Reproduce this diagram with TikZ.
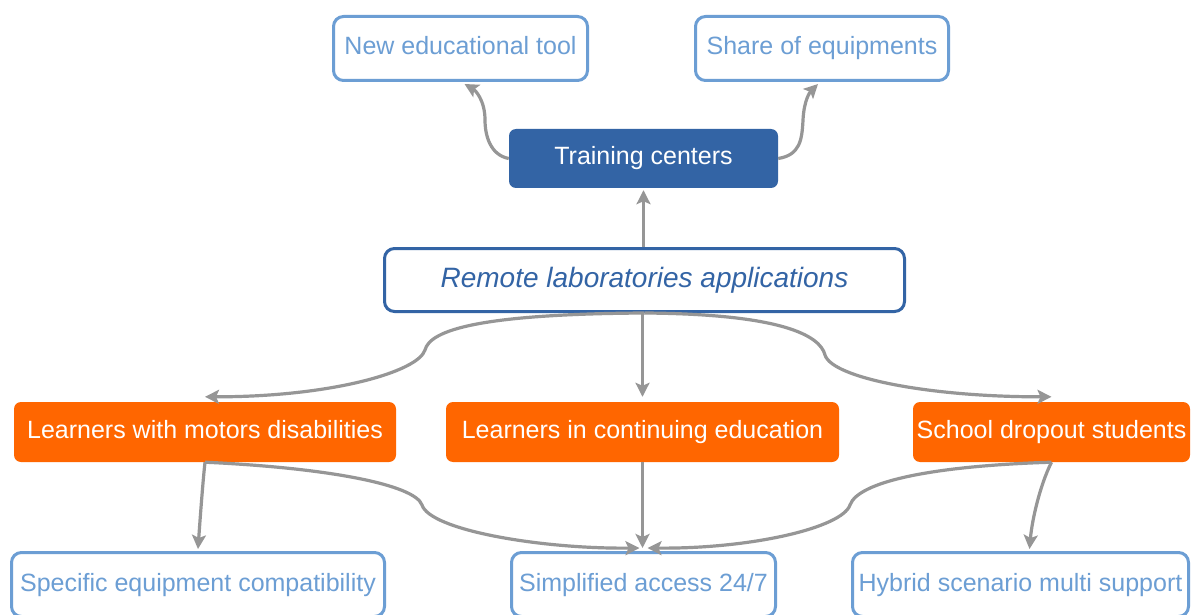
\documentclass[tikz,border=0pt]{standalone}
\usepackage{fontspec}
\setmainfont{Liberation Sans}
\usetikzlibrary{arrows.meta}
\definecolor{lblue}{RGB}{108,158,212}
\definecolor{dblue}{RGB}{51,100,165}
\definecolor{orng}{RGB}{255,102,0}
\definecolor{conn}{RGB}{150,150,150}
\tikzset{
  base/.style={rectangle, rounded corners=7pt, inner sep=0pt, text height=18pt, text depth=5pt, font=\fontsize{25}{30}\selectfont},
  leaf/.style={base, rounded corners=10pt, draw=lblue, line width=3pt, fill=white, text=lblue},
  bluebox/.style={base, fill=dblue, text=white},
  orangebox/.style={base, fill=orng, text=white},
  root/.style={base, rounded corners=10pt, draw=dblue, line width=3pt, fill=white, text=dblue, font=\fontsize{28}{34}\selectfont\itshape, text height=20pt, text depth=6pt},
  link/.style={draw=conn, line width=3.2pt, -{Stealth[length=14pt,width=14pt,inset=3pt]}}
}
\begin{document}
\begin{tikzpicture}[x=1pt,y=-1pt]
\useasboundingbox (0,0) rectangle (1192,615);
\clip (0,0) rectangle (1192,615);
\fill[white] (0,0) rectangle (1192,615);

% nodes
\node[leaf, minimum width=254pt, minimum height=64pt] (newtool) at (460.5,48.5) {New educational tool};
\node[leaf, minimum width=253pt, minimum height=64pt] (share) at (822,48.5) {Share of equipments};
\node[bluebox, minimum width=269pt, minimum height=59pt] (train) at (643.5,158.5) {Training centers};
\node[root, minimum width=520pt, minimum height=63pt] (remote) at (644.5,280) {Remote laboratories applications};
\node[orangebox, minimum width=382pt, minimum height=60pt] (motors) at (205,432) {Learners with motors disabilities};
\node[orangebox, minimum width=393pt, minimum height=60pt] (cont) at (642.5,432) {Learners in continuing education};
\node[orangebox, minimum width=277pt, minimum height=60pt] (school) at (1051.5,432) {School dropout students};
\node[leaf, minimum width=373pt, minimum height=64pt] (specific) at (198,584.5) {Specific equipment compatibility};
\node[leaf, minimum width=264pt, minimum height=64pt] (simpl) at (643.5,584.5) {Simplified access 24/7};
\node[leaf, minimum width=336pt, minimum height=64pt] (hybrid) at (1020.5,584.5) {Hybrid scenario multi support};

\coordinate (trtip) at ([yshift=-2pt]train.south);
\coordinate (sin) at ([yshift=3pt]simpl.north);
\coordinate (ctop) at ([yshift=5pt]cont.north);

% connectors
\draw[link] (remote.north -| trtip) -- (trtip);
\draw[link] (remote.south -| ctop) -- (ctop);
\draw[link] (train.west) .. controls (490,155) and (485,135) .. (485,120) .. controls (485,100) and (475,90) .. ([xshift=4pt,yshift=-2pt]newtool.south);
\draw[link] (train.east) .. controls (800,155) and (802,140) .. (803,120) .. controls (804,100) and (810,92) .. ([xshift=-4pt,yshift=-2pt]share.south);
\draw[link] (remote.south) .. controls (480,314) and (430,330) .. (425,350) .. controls (418,372) and (330,397) .. ([yshift=5pt]motors.north);
\draw[link] (remote.south) .. controls (780,314) and (820,335) .. (825,355) .. controls (832,378) and (930,397) .. ([yshift=5pt]school.north);
\draw[link] (motors.south) .. controls (203,480) and (200,520) .. ([yshift=2pt]specific.north);
\draw[link] (motors.south) .. controls (330,468) and (415,485) .. (422,505) .. controls (430,530) and (540,549) .. ([xshift=-4pt,yshift=3pt]simpl.north);
\draw[link] (cont.south) -- (cont.south |- sin);
\draw[link] (school.south) .. controls (930,466) and (858,482) .. (850,505) .. controls (842,528) and (750,549) .. ([xshift=4pt,yshift=3pt]simpl.north);
\draw[link] (school.south) .. controls (1040,485) and (1032,520) .. ([xshift=9pt,yshift=2pt]hybrid.north);
\end{tikzpicture}
\end{document}
